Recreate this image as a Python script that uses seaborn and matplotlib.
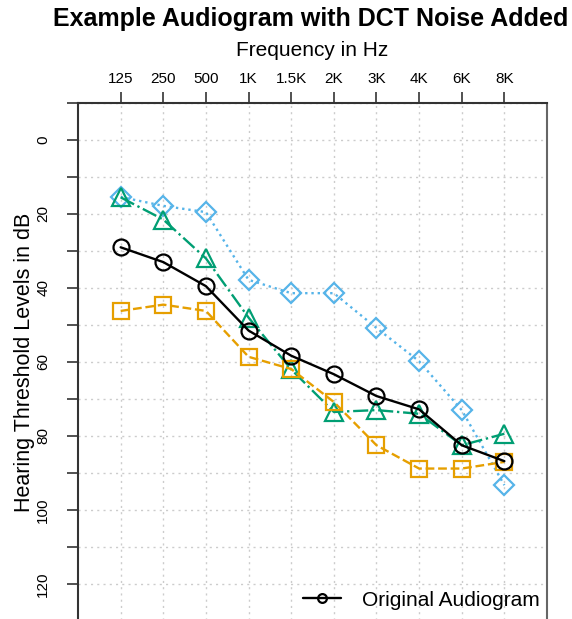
import numpy as np
import pandas as pd
import seaborn as sns
from matplotlib import pyplot as plt
from matplotlib.ticker import MultipleLocator

# === Data ===
freq_labels = ["125", "250", "500", "1K", "1.5K", "2K", "3K", "4K", "6K", "8K"]
original = [29, 33, 39.5, 51.5, 58.3, 63.3, 69.2, 72.8, 82.5, 86.8]
noise_orange = [46.2, 44.5, 46.2, 58.6, 61.9, 70.8, 82.5, 88.8, 88.8, 87]
noise_green = [15.5, 21.5, 32, 48, 62, 73.5, 73, 74, 82.5, 79.4]
noise_blue = [15.4, 17.8, 19.5, 37.8, 41.4, 41.4, 50.8, 59.8, 73, 93.3]

sns.set_theme(style="white")
plt.rcParams["font.family"] = ["Liberation Sans", "DejaVu Sans"]
plt.rcParams["text.color"] = "black"
plt.rcParams["axes.labelcolor"] = "black"
plt.rcParams["xtick.color"] = "black"
plt.rcParams["ytick.color"] = "black"

fig = plt.figure(figsize=(5.72, 6.19), dpi=100)
ax = fig.add_axes([0.1364, -0.0032, 0.8199, 0.8368])

x = np.arange(len(freq_labels))

series = [
    (noise_blue, "#56B4E9", "D", ":", 10.5, None),
    (noise_green, "#009E73", "^", "-.", 12.5, None),
    (noise_orange, "#E69F00", "s", "--", 11, None),
    (original, "black", "o", "-", 11.5, "Original Audiogram"),
]
for vals, color, marker, ls, ms, label in series:
    sns.lineplot(x=x, y=vals, ax=ax, color=color, marker=marker, linestyle=ls,
                 linewidth=1.7, markersize=ms, markerfacecolor="none",
                 markeredgecolor=color, markeredgewidth=1.6, label=label,
                 zorder=3)

ax.set_xlim(-1, 10)
ax.set_ylim(130, -10)

# x axis on top
ax.xaxis.tick_top()
ax.xaxis.set_label_position("top")
ax.set_xticks(x)
ax.set_xticklabels(freq_labels, fontsize=11)
ax.set_xlabel("Frequency in Hz", fontsize=15, labelpad=12)
ax.tick_params(axis="x", direction="out", length=8, width=1.2, color="#333333",
               pad=4, top=True, bottom=False)

ax.yaxis.set_major_locator(MultipleLocator(20))
ax.yaxis.set_minor_locator(MultipleLocator(10))
ax.set_yticks(np.arange(0, 130, 20))
ax.tick_params(axis="y", which="both", direction="out", length=8, width=1.2,
               color="#333333", left=True)
ax.tick_params(axis="y", which="major", pad=12, labelsize=11)
for lbl in ax.get_yticklabels():
    lbl.set_rotation(90)
    lbl.set_va("center")
ax.set_ylabel("Hearing Threshold Levels in dB", fontsize=15.5, labelpad=1)

ax.grid(True, which="both", linestyle=(0, (1.5, 3)), color="#cccccc", linewidth=1)

for side in ["left", "top"]:
    ax.spines[side].set_color("#333333")
    ax.spines[side].set_linewidth(1.5)
ax.spines["right"].set_color("#666666")
ax.spines["right"].set_linestyle((0, (2, 1)))
ax.spines["right"].set_linewidth(1.5)
ax.spines["bottom"].set_visible(False)

ax.legend(loc="center left", bbox_to_anchor=(0.44, 0.04), frameon=False,
          fontsize=15, handlelength=1.8, handletextpad=1.05, markerscale=0.55)

fig.suptitle("Example Audiogram with DCT Noise Added", fontsize=18,
             fontweight="bold", x=0.544, y=0.988)

plt.savefig("out.png", dpi=100)
plt.close(fig)
